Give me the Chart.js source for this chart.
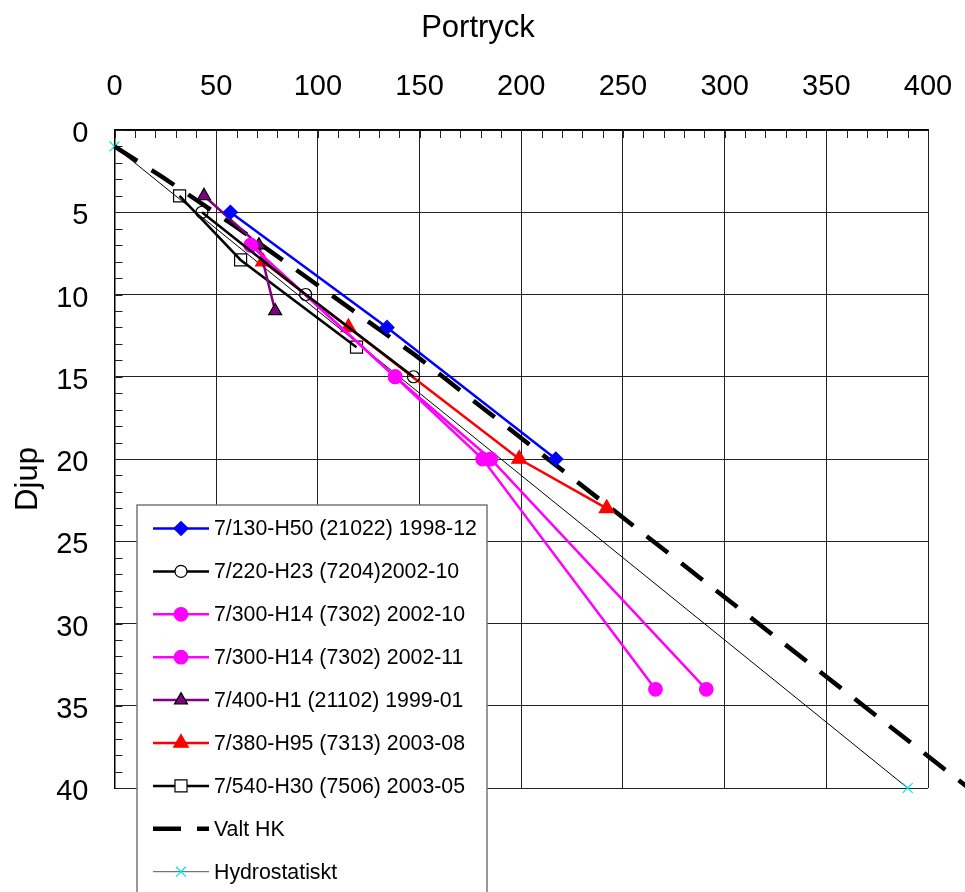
<!DOCTYPE html>
<html>
<head>
<meta charset="utf-8">
<script src="https://cdn.jsdelivr.net/npm/chart.js@4.4.1/dist/chart.umd.min.js"></script>
<style>
  html, body { margin: 0; padding: 0; background: #fff; }
</style>
</head>
<body>
<canvas id="portryck" width="965" height="892"></canvas>
<script>
// Portryck mot djup
const h50Tryck = [57, 134, 217];
const h50Djup = [5, 12, 20];
const h23Tryck = [43, 94, 147];
const h23Djup = [5, 10, 15];
const h14aTryck = [67, 138, 181, 266];
const h14aDjup = [7, 15, 20, 34];
const h14bTryck = [67, 138, 185, 291];
const h14bDjup = [7, 15, 20, 34];
const h1Tryck = [44, 71, 79];
const h1Djup = [4, 7, 11];
const h95Tryck = [73, 115, 199, 242];
const h95Djup = [8, 12, 20, 23];
const h30Tryck = [32, 62, 119];
const h30Djup = [4, 7.9, 13.2];
const hkTryck = [0, 24, 60, 148, 420];
const hkDjup = [1, 2.9, 5.9, 13.7, 40];
const hydroTryck = [0, 390];
const hydroDjup = [1, 40];

const seriesNames = [
  '7/130-H50 (21022) 1998-12',
  '7/220-H23 (7204)2002-10',
  '7/300-H14 (7302) 2002-10',
  '7/300-H14 (7302) 2002-11',
  '7/400-H1 (21102) 1999-01',
  '7/380-H95 (7313) 2003-08',
  '7/540-H30 (7506) 2003-05',
  'Valt HK',
  'Hydrostatiskt'
];

const FONT = "'Liberation Sans', Arial, sans-serif";

function pts(xs, ys) {
  return xs.map((v, i) => ({ x: v, y: ys[i] }));
}

function serie(i, xs, ys, color, style, radius, fill, border, extra) {
  return Object.assign({
    label: seriesNames[i],
    data: pts(xs, ys),
    showLine: true,
    borderColor: color,
    borderWidth: 2.5,
    pointStyle: style,
    pointRadius: radius,
    pointBackgroundColor: fill,
    pointBorderColor: border,
    pointBorderWidth: 1.2
  }, extra || {});
}

const datasets = [
  serie(0, h50Tryck, h50Djup, '#0000ff', 'rectRot', 7, '#0000ff', '#0000ff'),
  serie(1, h23Tryck, h23Djup, '#000000', 'circle', 6, 'rgba(0,0,0,0)', '#000000'),
  serie(2, h14aTryck, h14aDjup, '#ff00ff', 'circle', 6.8, '#ff00ff', '#ff00ff'),
  serie(3, h14bTryck, h14bDjup, '#ff00ff', 'circle', 6.8, '#ff00ff', '#ff00ff'),
  serie(4, h1Tryck, h1Djup, '#800080', 'triangle', 7.5, '#800080', '#000000'),
  serie(5, h95Tryck, h95Djup, '#ff0000', 'triangle', 8.5, '#ff0000', '#ff0000'),
  serie(6, h30Tryck, h30Djup, '#000000', 'rect', 8.5, 'rgba(0,0,0,0)', '#000000'),
  serie(7, hkTryck, hkDjup, '#000000', 'circle', 0, '#000', '#000',
        { borderWidth: 4.5, borderDash: [27, 17], clip: false }),
  serie(8, hydroTryck, hydroDjup, '#000000', 'crossRot', 7, '#00e6e6', '#00e6e6',
        { borderWidth: 1, clip: false })
];

// legendens provlinjer
const legendSample = [
  { color: '#0000ff', width: 2.5, style: 'rectRot', r: 7, fill: '#0000ff', stroke: '#0000ff' },
  { color: '#000000', width: 2.5, style: 'circle', r: 6, fill: '#ffffff', stroke: '#000000' },
  { color: '#ff00ff', width: 2.5, style: 'circle', r: 6.8, fill: '#ff00ff', stroke: '#ff00ff' },
  { color: '#ff00ff', width: 2.5, style: 'circle', r: 6.8, fill: '#ff00ff', stroke: '#ff00ff' },
  { color: '#800080', width: 2.5, style: 'triangle', r: 7.5, fill: '#800080', stroke: '#000000' },
  { color: '#ff0000', width: 2.5, style: 'triangle', r: 8.5, fill: '#ff0000', stroke: '#ff0000' },
  { color: '#000000', width: 2.5, style: 'rect', r: 8.5, fill: '#ffffff', stroke: '#000000' },
  { color: '#000000', width: 4.5, dash: [28, 16] },
  { color: '#555555', width: 1, style: 'crossRot', r: 7, fill: '#00e6e6', stroke: '#00e6e6' }
];

const extras = {
  id: 'extras',
  beforeDatasetsDraw(chart) {
    const { ctx, chartArea: a, scales: { x, y } } = chart;
    ctx.save();
    ctx.strokeStyle = '#222';
    ctx.lineWidth = 1;
    ctx.beginPath();
    for (let v = 0; v <= 400; v += 10) {
      const px = Math.round(x.getPixelForValue(v)) + 0.5;
      ctx.moveTo(px, a.top);
      ctx.lineTo(px, a.top + 8);
    }
    for (let v = 0; v <= 40; v += 1) {
      const py = Math.round(y.getPixelForValue(v)) + 0.5;
      ctx.moveTo(a.left, py);
      ctx.lineTo(a.left + 8, py);
    }
    ctx.stroke();
    ctx.restore();
  },
  afterDraw(chart) {
    const ctx = chart.ctx;
    ctx.save();
    // axeltitlar
    ctx.fillStyle = '#000';
    ctx.font = '31px ' + FONT;
    ctx.textAlign = 'center';
    ctx.textBaseline = 'middle';
    ctx.fillText('Portryck', 478, 28);
    ctx.save();
    ctx.translate(28, 479);
    ctx.rotate(-Math.PI / 2);
    ctx.fillText('Djup', 0, 0);
    ctx.restore();

    // legend
    ctx.fillStyle = '#fff';
    ctx.fillRect(137, 505, 350, 400);
    ctx.strokeStyle = '#777';
    ctx.lineWidth = 1.5;
    ctx.strokeRect(137, 505, 350, 400);
    ctx.font = '21.3px ' + FONT;
    ctx.textAlign = 'left';
    legendSample.forEach((s, i) => {
      const yy = 528.5 + i * 42.9;
      ctx.save();
      ctx.strokeStyle = s.color;
      ctx.lineWidth = s.width;
      if (s.dash) ctx.setLineDash(s.dash);
      ctx.beginPath();
      ctx.moveTo(153, yy);
      ctx.lineTo(209, yy);
      ctx.stroke();
      ctx.restore();
      if (s.style) {
        ctx.save();
        ctx.fillStyle = s.fill;
        ctx.strokeStyle = s.stroke;
        ctx.lineWidth = 1.2;
        Chart.helpers.drawPoint(ctx, { pointStyle: s.style, radius: s.r, rotation: 0, borderWidth: 1.2 }, 181, yy);
        ctx.restore();
      }
      ctx.fillStyle = '#000';
      ctx.fillText(seriesNames[i], 214, yy + 1);
    });
    ctx.restore();
  }
};

new Chart(document.getElementById('portryck'), {
  type: 'scatter',
  data: { datasets: datasets },
  options: {
    responsive: false,
    animation: false,
    layout: { padding: { left: 0, top: 0, right: 37, bottom: 104 } },
    plugins: {
      legend: { display: false },
      tooltip: { enabled: false }
    },
    scales: {
      x: {
        type: 'linear',
        position: 'top',
        min: 0,
        max: 400,
        ticks: { stepSize: 50, color: '#000', font: { size: 29, family: FONT }, padding: 26, maxRotation: 0 },
        grid: { color: '#222', lineWidth: 1, drawTicks: false },
        border: { display: true, color: '#000', width: 1.5 },
        afterFit(scale) {
          scale.height = 130;
          scale.paddingLeft = 0;
          scale.paddingRight = 0;
        }
      },
      y: {
        type: 'linear',
        reverse: true,
        min: 0,
        max: 40,
        ticks: { stepSize: 5, color: '#000', font: { size: 29, family: FONT }, padding: 26, labelOffset: 4 },
        grid: { color: '#222', lineWidth: 1, drawTicks: false },
        border: { display: true, color: '#000', width: 1.5 },
        afterFit(scale) {
          scale.width = 114.5;
          scale.paddingTop = 0;
          scale.paddingBottom = 0;
        }
      }
    }
  },
  plugins: [extras]
});
</script>
</body>
</html>
